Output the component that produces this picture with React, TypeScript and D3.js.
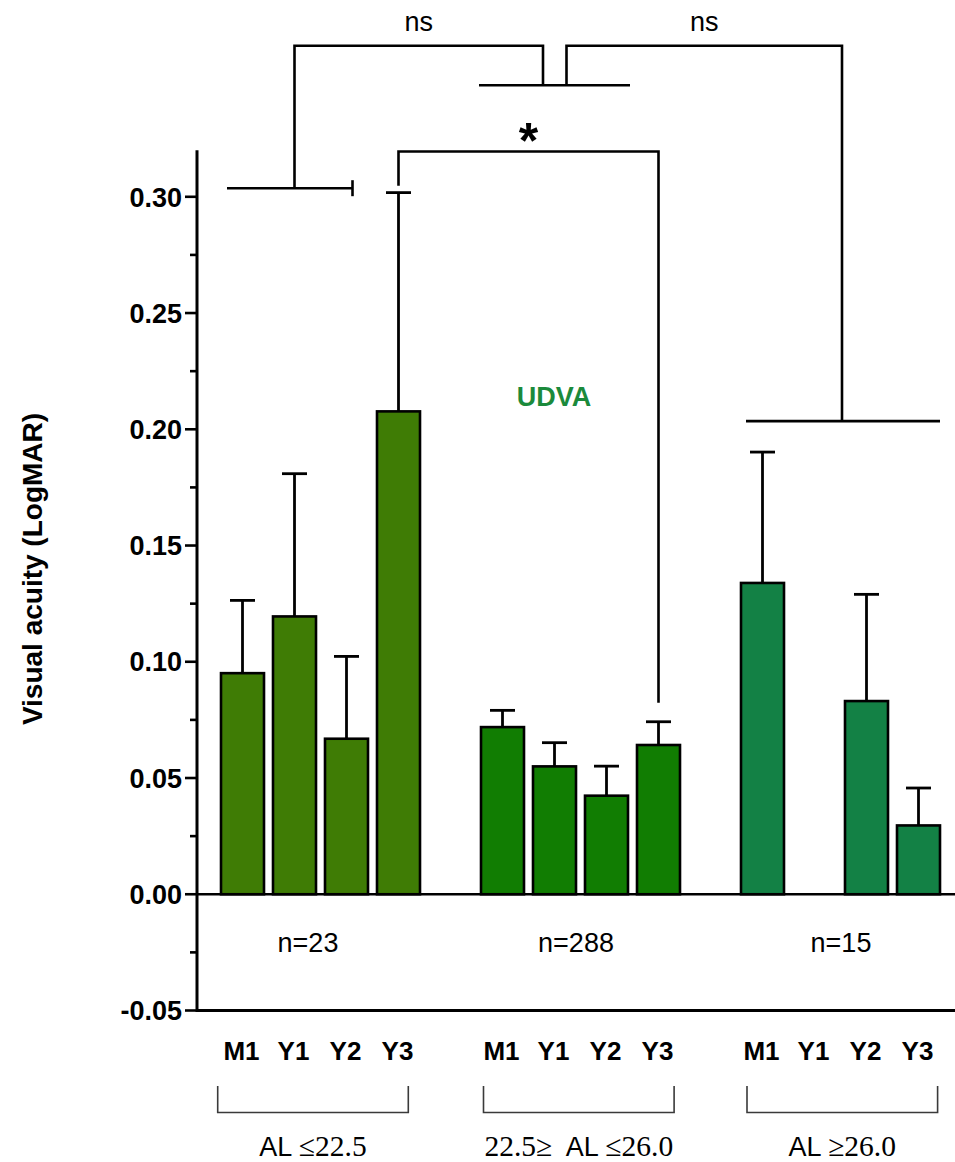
import React, { useRef, useEffect } from 'react';
import * as d3 from 'd3';

// categories
const timepoints = ['M1', 'Y1', 'Y2', 'Y3'];
const groupLabels = ['AL ≤22.5', '22.5≥  AL ≤26.0', 'AL ≥26.0'];
const groupN = ['n=23', 'n=288', 'n=15'];

// mean LogMAR per timepoint, and error bar (upper) length
const meanShort = [0.0951, 0.1195, 0.0669, 0.2077];
const errShort = [0.0313, 0.0614, 0.0354, 0.0941];
const meanMid = [0.0719, 0.055, 0.0424, 0.0642];
const errMid = [0.0072, 0.0102, 0.0127, 0.01];
const meanLong = [0.1339, null, 0.0831, 0.0296];
const errLong = [0.0563, null, 0.0459, 0.0161];

// y axis ticks
const yTicks = [-0.05, 0, 0.05, 0.1, 0.15, 0.2, 0.25, 0.3];
const yMinorTicks = [-0.025, 0.025, 0.075, 0.125, 0.175, 0.225, 0.275];

const sigLabels = ['ns', 'ns', '*'];

const groupColors = ['#3F7C05', '#117D02', '#138145'];

const W = 955;
const H = 1162;
const SANS = "'Liberation Sans', Arial, Helvetica, sans-serif";
const SERIF = "'Liberation Serif', 'Times New Roman', serif";

const App = () => {
  const svgRef = useRef<SVGSVGElement>(null);

  useEffect(() => {
    const svg = d3.select(svgRef.current);
    svg.selectAll('*').remove();

    const means = [meanShort, meanMid, meanLong];
    const errs = [errShort, errMid, errLong];

    const y = d3.scaleLinear().domain([-0.05, 0.32]).range([1010.5, 150.3]);
    const axisX = 197;

    const xGroup = d3.scaleBand<number>()
      .domain([0, 1, 2])
      .range([216.5, 944.5])
      .paddingInner(0.2)
      .paddingOuter(0);
    const xTime = d3.scaleBand<string>()
      .domain(timepoints)
      .range([0, xGroup.bandwidth()])
      .paddingInner(9 / 52)
      .paddingOuter(4.5 / 52);
    const bw = xTime.bandwidth();
    const xb = (g: number, t: string) => (xGroup(g) as number) + (xTime(t) as number);
    const xc = (g: number, t: string) => xb(g, t) + bw / 2;

    const line = (x1: number, y1: number, x2: number, y2: number, w = 2.6, c = '#000') =>
      svg.append('line')
        .attr('x1', x1).attr('y1', y1).attr('x2', x2).attr('y2', y2)
        .attr('stroke', c).attr('stroke-width', w);

    const fmt = (v: number) => d3.format('.2f')(v).replace('−', '-');

    // y axis
    line(axisX, y(0.32), axisX, y(-0.05) + 1.5, 3);
    yTicks.forEach(t => {
      line(axisX - 12, y(t), axisX, y(t), 2.6);
      svg.append('text')
        .attr('x', axisX - 15).attr('y', y(t))
        .attr('dy', '0.36em')
        .attr('text-anchor', 'end')
        .attr('font-family', SANS).attr('font-weight', 'bold').attr('font-size', 27)
        .text(fmt(t));
    });
    yMinorTicks.forEach(t => line(axisX - 7, y(t), axisX, y(t), 2.6));

    // zero line and bottom line
    line(axisX, y(0), W, y(0), 2.6);
    line(axisX, y(-0.05), W, y(-0.05), 3);

    // y title
    svg.append('text')
      .attr('transform', `translate(42,569) rotate(-90)`)
      .attr('text-anchor', 'middle')
      .attr('font-family', SANS).attr('font-weight', 'bold').attr('font-size', 28)
      .text('Visual acuity (LogMAR)');

    // error bars then bars
    means.forEach((ms, g) => {
      ms.forEach((m, i) => {
        if (m == null) return;
        const t = timepoints[i];
        const cx = xc(g, t);
        const top = m + (errs[g][i] as number);
        line(cx, y(m), cx, y(top), 2.8);
        line(cx - 12.5, y(top), cx + 12.5, y(top), 2.8);
      });
    });
    means.forEach((ms, g) => {
      ms.forEach((m, i) => {
        if (m == null) return;
        const t = timepoints[i];
        svg.append('rect')
          .attr('x', xb(g, t)).attr('y', y(m))
          .attr('width', bw).attr('height', y(0) - y(m))
          .attr('fill', groupColors[g])
          .attr('stroke', '#000').attr('stroke-width', 2.6);
      });
    });

    // n labels, timepoint labels, group brackets and names
    const bracketShift = [-7.5, -1.7, 1.8];
    const nShift = [-12.5, -4.5, 0.5];
    groupN.forEach((n, g) => {
      const g0 = xGroup(g) as number;
      const mid = g0 + xGroup.bandwidth() / 2;
      svg.append('text')
        .attr('x', mid + nShift[g]).attr('y', 952)
        .attr('text-anchor', 'middle')
        .attr('font-family', SANS).attr('font-size', 27)
        .text(n);

      timepoints.forEach(t => {
        svg.append('text')
          .attr('x', xc(g, t) - 1).attr('y', 1060)
          .attr('text-anchor', 'middle')
          .attr('font-family', SANS).attr('font-weight', 'bold').attr('font-size', 26)
          .text(t);
      });

      const bmid = mid + bracketShift[g];
      const bx0 = bmid - 95.3;
      const bx1 = bmid + 95.3;
      svg.append('path')
        .attr('d', `M${bx0},1086 V1112.5 H${bx1} V1086`)
        .attr('fill', 'none').attr('stroke', '#3a3a3a').attr('stroke-width', 1.6);

      const label = svg.append('text')
        .attr('x', bmid).attr('y', 1156)
        .attr('text-anchor', 'middle');
      groupLabels[g].split(/([\d.≤≥]+)/).filter(s => s.length).forEach(s => {
        const serif = /[\d≤≥]/.test(s);
        label.append('tspan')
          .attr('font-family', serif ? SERIF : SANS)
          .attr('font-size', serif ? 29.5 : 27)
          .attr('xml:space', 'preserve')
          .text(s);
      });
    });

    // UDVA tag
    svg.append('text')
      .attr('x', 554).attr('y', 406)
      .attr('text-anchor', 'middle')
      .attr('font-family', SANS).attr('font-weight', 'bold').attr('font-size', 27)
      .attr('fill', '#1B8A3B')
      .text('UDVA');

    // significance brackets
    const yTop = y(0.365);
    const yMidBar = y(0.348);
    const yGroup1 = y(0.3037);
    const yGroup3 = y(0.2035);
    const midC = xc(1, 'Y1');
    const g3x0 = xb(2, 'M1') + 5;
    const g3x1 = xb(2, 'Y3') + bw;
    const g3mid = (g3x0 + g3x1) / 2 - 1;

    // group 1 base line with end tick
    line(xb(0, 'M1') + 6, yGroup1, xc(0, 'Y2') + 6, yGroup1);
    line(xc(0, 'Y2') + 6, yGroup1 - 8, xc(0, 'Y2') + 6, yGroup1 + 8);
    // group 3 base line
    line(g3x0, yGroup3, g3x1, yGroup3);
    // middle base line
    line(midC - 75.5, yMidBar, midC + 75.5, yMidBar);

    svg.append('path')
      .attr('d', `M${xc(0, 'Y1')},${yGroup1} V${yTop} H${midC - 11.5} V${yMidBar}`)
      .attr('fill', 'none').attr('stroke', '#000').attr('stroke-width', 2.6);
    svg.append('path')
      .attr('d', `M${midC + 12},${yMidBar} V${yTop} H${g3mid} V${yGroup3}`)
      .attr('fill', 'none').attr('stroke', '#000').attr('stroke-width', 2.6);

    // * bracket between Y3 of group 1 and Y3 of group 2
    const sx0 = xc(0, 'Y3');
    const sx1 = xc(1, 'Y3');
    svg.append('path')
      .attr('d', `M${sx0},${y(0.3048)} V${y(0.3195)} H${sx1} V${y(0.0824)}`)
      .attr('fill', 'none').attr('stroke', '#000').attr('stroke-width', 2.6);

    const nsXs = [(xc(0, 'Y1') + midC - 11.5) / 2, (midC + 12 + g3mid) / 2];
    nsXs.forEach((x, i) => {
      svg.append('text')
        .attr('x', x).attr('y', 31)
        .attr('text-anchor', 'middle')
        .attr('font-family', SANS).attr('font-size', 27)
        .text(sigLabels[i]);
    });
    svg.append('text')
      .attr('x', (sx0 + sx1) / 2).attr('y', 158)
      .attr('text-anchor', 'middle')
      .attr('font-family', SANS).attr('font-weight', 'bold').attr('font-size', 50)
      .text(sigLabels[2]);
  }, []);

  return (
    <svg
      ref={svgRef}
      width={W}
      height={H}
      style={{ position: 'absolute', left: 0, top: 0, background: '#fff' }}
    />
  );
};

export default App;
